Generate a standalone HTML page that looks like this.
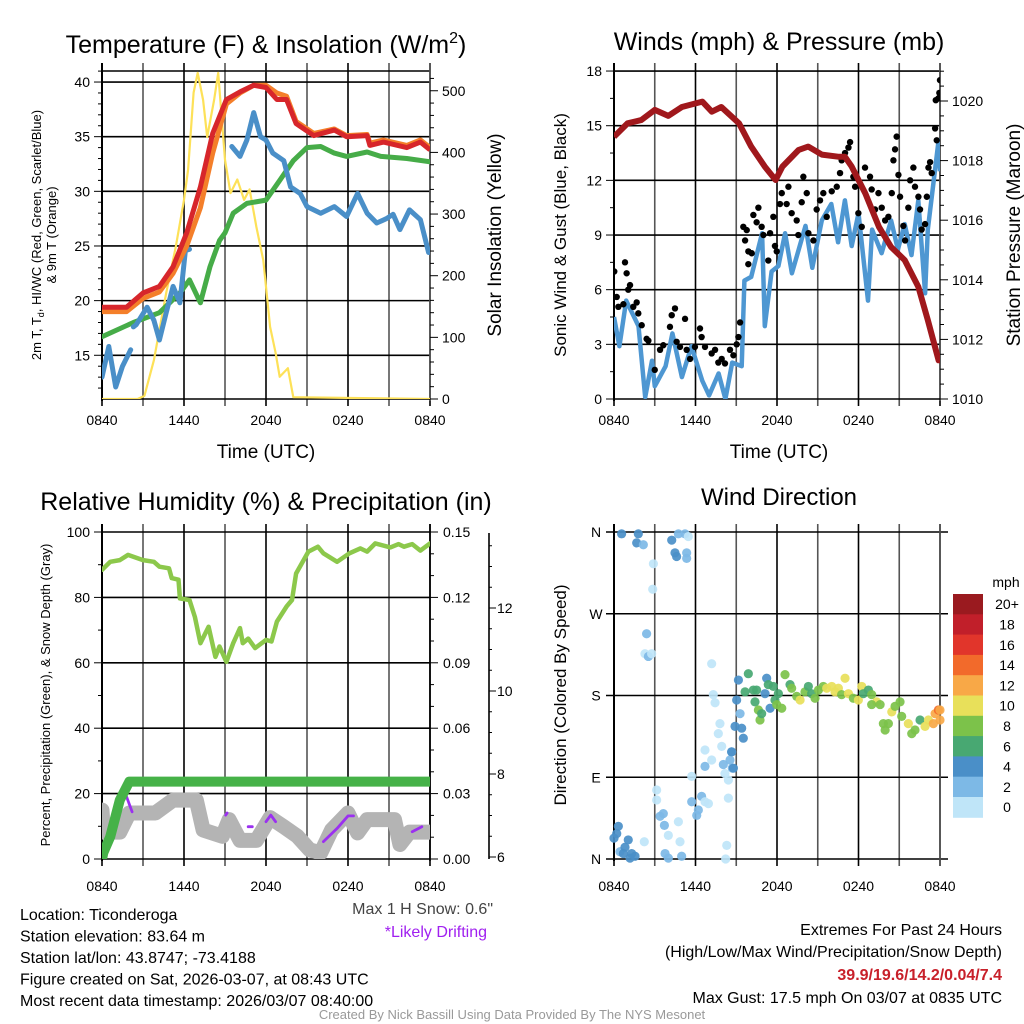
<!DOCTYPE html>
<html><head><meta charset="utf-8"><style>
html,body{margin:0;padding:0;background:#fff;}
svg{display:block;font-family:"Liberation Sans",Arial,sans-serif;}
</style></head><body>
<svg id="root" width="1024" height="1024" viewBox="0 0 1024 1024" xmlns="http://www.w3.org/2000/svg">
<rect width="1024" height="1024" fill="#fff"/>
<g id="g"></g>
</svg>
<script>
// ---------- DATA ----------
const xTickLabels = ["0840","1440","2040","0240","0840"];
// Panel 1: temperature (hours since 0840 UTC)
const redH = [0,1.8,3.0,4.2,5.2,6.2,7.2,8.1,9.1,10.1,11.1,12.0,12.8,13.5,14.2,15.5,17.0,17.9,19.4,19.6,20.6,22.3,23.3,24];
const redV = [19.4,19.4,20.7,21.3,23.1,26.2,30.4,35.3,38.4,39.1,39.7,39.5,38.4,38.4,36.2,35.1,35.6,35.0,35.1,34.2,34.5,34.0,34.5,33.8];
const orangeV = [19.0,19.0,20.2,20.8,22.5,25.0,28.5,33.5,38.0,39.0,39.7,39.7,39.0,38.7,36.4,35.3,35.7,35.1,35.2,34.4,34.7,34.2,34.7,34.0];
const greenH = [0,2.3,4.2,5.7,6.4,7.2,7.9,8.6,9.0,9.6,10.6,12.0,13.0,14.0,15.0,16.0,17.0,17.9,19.4,20.4,22.3,24];
const greenV = [16.7,18.0,18.9,20.7,21.9,19.8,23.1,25.5,26.2,28.0,28.9,29.2,31.0,32.8,34.0,34.1,33.5,33.2,33.6,33.2,33.0,32.7];
const blueH = [0,0.5,1.0,1.5,2.1,null,2.3,2.5,3.3,3.8,4.2,4.7,5.2,5.7,6.1,6.4,null,9.5,10.1,10.6,11.1,11.6,12.0,12.5,13.3,13.8,14.5,15.0,16.0,17.0,17.9,18.7,19.4,20.1,20.8,21.3,21.8,22.5,23.3,23.9];
const blueV = [13.0,15.8,12.1,14.0,15.5,null,17.6,17.8,19.4,18.2,16.4,18.9,21.3,19.8,24.6,24.7,null,34.1,33.2,34.7,37.2,35.0,34.7,33.5,32.8,30.4,29.8,28.6,28.0,28.6,27.7,29.8,28.0,27.1,27.5,27.9,26.5,28.3,27.4,24.4];
const solarH = [0,2.6,3.1,3.8,4.7,5.4,6.0,6.3,6.7,7.0,7.4,7.7,8.2,8.5,9.0,9.4,9.9,10.4,10.8,11.3,11.8,12.3,12.7,13.0,13.6,14.0,24];
const solarV = [0,0,5,63,172,247,323,372,497,529,485,425,485,529,388,334,356,323,340,279,225,117,75,36,50,3,0];
// Panel 2: winds & pressure
const presH = [0,1.0,2.0,3.0,4.0,5.0,6.5,7.2,7.9,9.2,10.1,11.1,11.9,12.4,13.6,14.3,15.3,16.5,17.0,17.5,18.5,19.5,20.4,21.4,22.4,23.1,23.9,24];
const presV = [1018.8,1019.25,1019.36,1019.7,1019.5,1019.8,1019.98,1019.64,1019.8,1019.25,1018.47,1017.8,1017.35,1017.8,1018.36,1018.47,1018.2,1018.13,1018.13,1017.8,1016.9,1015.78,1015.1,1014.66,1013.77,1012.65,1011.3,1011.3];
const windH = [0,0.4,0.9,1.8,2.3,2.8,3.0,3.8,4.3,5.0,5.7,6.5,7.0,7.7,8.2,8.7,9.4,9.6,10.1,10.9,11.1,11.6,12.1,12.6,13.1,14.1,14.6,15.3,16.0,16.5,17.0,17.5,18.0,18.7,19.0,19.7,20.4,20.9,21.4,21.9,22.4,22.9,23.1,23.9,24];
const windV = [4.5,2.9,5.4,4.0,0.1,2.1,0.7,1.8,3.6,1.2,2.9,1.0,0.2,1.4,0,2.0,1.8,6.5,6.7,9.1,4.0,7.0,7.3,9.1,6.9,9.5,7.2,9.8,10.7,8.6,10.9,8.4,10.2,5.4,9.3,8.0,9.8,8.2,9.6,7.9,10.9,5.8,9.3,14.2,12.5];
const gustH = [0.02,0.2,0.32,0.81,0.93,1.18,1.05,0.69,1.42,1.67,1.79,2.04,2.4,2.53,3.0,3.39,3.63,4.12,4.25,4.49,4.61,4.86,5.23,5.35,5.6,5.96,6.33,6.45,6.7,7.19,7.44,7.68,7.93,8.17,8.54,8.79,9.03,9.16,9.28,9.52,9.77,9.65,9.89,10.14,9.89,10.26,10.5,10.63,10.87,11.0,11.36,11.49,11.73,11.85,11.98,12.22,12.35,12.71,12.84,13.08,13.45,13.57,13.82,13.94,14.19,14.31,14.68,14.92,15.17,15.41,15.66,16.03,16.4,16.64,16.76,17.01,17.26,17.38,17.62,17.75,17.99,18.24,18.48,18.85,18.97,19.22,19.47,19.71,19.96,20.2,20.45,20.57,20.69,20.81,20.94,21.06,21.3,21.43,21.67,21.8,22.04,22.16,22.41,22.53,22.65,22.9,23.03,23.15,23.27,23.39,23.64,23.76,23.69,23.88,24.0,23.95];
const gustV = [7.0,5.6,5.06,7.5,6.9,6.25,6.0,5.2,5.06,5.3,4.7,4.05,3.3,3.2,1.6,2.7,2.95,3.96,4.6,4.97,3.14,2.86,4.4,2.7,2.2,2.86,3.87,3.4,2.86,2.5,2.7,2.0,2.2,1.95,2.7,2.4,3.0,3.4,4.2,9.45,9.27,8.7,8.1,8.0,7.4,10.1,9.7,10.5,9.45,9.0,7.6,9.1,10.0,8.4,8.1,10.7,11.3,10.7,11.65,10.2,9.8,9.0,10.8,12.2,11.3,9.1,8.7,10.4,10.9,11.3,10.0,11.4,11.65,12.4,13.1,13.5,13.8,14.1,12.2,11.65,10.2,9.45,12.7,12.2,11.5,10.4,11.3,10.5,9.8,10.0,11.3,13.1,13.7,14.4,12.3,11.1,9.5,8.7,10.5,12.0,12.7,11.65,11.1,10.4,9.3,9.6,11.1,12.7,13.0,12.4,14.85,14.2,16.4,16.5,17.5,16.8];
// Panel 3: humidity, precip, snow
const rhH = [0,0.6,1.3,1.9,3.0,3.8,4.2,4.9,5.1,5.6,5.7,6.4,6.8,7.2,7.8,8.3,8.6,9.1,9.6,10.1,10.3,10.7,11.2,12.0,12.4,12.8,13.5,13.9,14.2,15.1,15.8,16.2,17.2,18.1,18.9,19.4,20.0,21.1,21.7,22.1,22.7,23.3,24];
const rhV = [88.4,90.9,91.4,93,91.4,90.9,89.4,88.9,85.9,85.4,79.7,79.2,74,66,71,61.8,65,60.3,66,70.6,66,67.4,64.5,67,66.5,72.6,77.2,79.2,87.3,94,95.5,93.5,90.9,93.5,95,94,96.5,95.3,96.3,95.5,96.3,94.3,96.5];
const precipH = [0,0.1,0.6,1.3,2.0,24];
const precipV = [0,0.003,0.0102,0.027,0.0355,0.0355];
const snowH = [0,0.1,1.3,2.0,3.9,5.2,6.9,7.4,8.8,9.3,10.1,11.3,12.3,13.3,14.3,15.2,16.0,16.8,18.0,18.7,19.4,20.4,21.4,21.8,22.5,24];
const snowV = [7.13,6.6,6.6,7.06,7.06,7.37,7.37,6.65,6.5,6.9,6.4,6.4,6.95,6.73,6.5,6.17,6.1,6.65,7.06,6.58,6.9,6.9,6.9,6.3,6.6,6.6];
const driftH = [1.8,2.2,null,9.05,9.15,null,10.7,11.0,null,12.0,12.35,12.7,null,16.2,17.2,18.0,18.4,null,22.7,23.4];
const driftV = [7.45,7.09,null,7.01,7.06,null,6.73,6.73,null,6.85,7.01,6.85,null,6.37,6.69,6.99,6.99,null,6.61,6.73];
// Panel 4: wind direction (hour, degrees, speed mph)
const dirH = [0.56,1.79,1.67,2.16,4.25,4.49,4.61,5.23,5.35,5.47,5.35,4.74,2.9,2.85,2.4,2.28,2.53,2.77,
 7.19,7.31,7.44,7.8,7.68,6.7,7.19,7.93,8.17,8.42,6.7,8.05,8.66,8.54,8.71,5.72,3.14,3.14,3.39,3.63,3.71,4.0,3.76,4.0,4.98,4.86,4.74,5.72,6.21,6.45,6.7,6.09,6.95,8.3,8.22,8.42,2.23,
 0,0.32,0.2,0.44,0.81,1.05,1.3,1.55,0.69,1.18,
 9.16,9.03,9.28,8.91,9.4,9.52,8.66,8.79,
 9.89,9.65,10.26,10.5,10.38,10.63,10.75,10.87,11.24,11.12,11.49,11.36,11.73,11.85,12.1,12.35,11.98,12.59,12.96,13.08,13.45,13.7,14.06,14.31,14.55,14.8,15.05,15.41,15.66,16.03,16.27,16.52,16.76,17.01,17.26,17.62,17.99,18.24,18.36,18.73,18.97,19.34,18.97,19.59,19.83,19.96,20.2,20.45,20.69,21.06,21.18,21.67,21.92,22.16,22.53,22.9,23.15,23.51,23.64,23.88,24.0,24.0];
const dirV = [358,358,348,346,351,337,333,358,337,355,331,358,325,297,248,226,223,226,
 215,181,172,149,138,120,109,124,94,87,102,104,118,109,100,91,76,65,47,50,37,26,6,1,3,19,41,63,54,69,63,48,61,15,0,67,19,
 23,36,28,8,13,21,6,3,6,1,
 197,175,160,146,144,133,118,100,
 204,184,186,186,173,164,153,160,199,182,166,192,190,175,182,166,170,203,192,188,179,175,184,190,182,177,186,190,188,190,184,188,181,199,182,177,175,190,182,186,181,173,170,170,149,142,149,162,168,173,157,149,138,142,153,146,153,149,160,164,153,164];
const dirS = [4,4,4,2,4,4,4,2,2,0,2,2,0,0,2,0,2,0,
 0,0,0,0,0,0,0,0,0,0,2,2,2,2,2,0,0,0,2,2,2,0,2,2,2,0,0,2,2,2,0,2,0,0,0,0,0,
 4,4,4,2,4,4,4,4,4,4,
 4,4,2,4,4,4,4,4,
 6,6,6,6,6,8,8,6,4,4,4,6,6,6,6,8,8,8,6,8,8,10,8,6,6,8,8,8,10,10,10,10,8,10,10,8,10,10,6,6,8,10,8,8,8,8,8,10,8,8,8,10,8,8,6,10,10,12,12,14,12];
const cbLabels = ["20+","18","16","14","12","10","8","6","4","2","0"];
const cbColors = ["#9a1a1f","#c11f2a","#e1352b","#f26a2b","#f8a847","#e8e05a","#7cc24a","#48a872","#4a8fc8","#7db9e6","#bfe5f8"];

// ---------- HELPERS ----------
const NS="http://www.w3.org/2000/svg";
const G=document.getElementById('g');
function mk(tag,attrs,parent){const e=document.createElementNS(NS,tag);for(const k in attrs)e.setAttribute(k,attrs[k]);(parent||G).appendChild(e);return e;}
function txt(x,y,s,size,anchor,parent,fill,weight){const t=mk('text',{x:x,y:y,'font-size':size,'text-anchor':anchor||'middle',fill:fill||'#000'},parent);if(weight)t.setAttribute('font-weight',weight);t.textContent=s;return t;}
function pathFrom(hs,vs,fx,fy){let d='',pen=false;for(let i=0;i<hs.length;i++){if(hs[i]===null||vs[i]===null){pen=false;continue;}d+=(pen?'L':'M')+fx(hs[i]).toFixed(1)+','+fy(vs[i]).toFixed(1);pen=true;}return d;}
function speedColor(s){if(s===undefined||s===null)s=12;let idx=10-Math.min(10,Math.floor(s/2));return cbColors[idx];}

function frame(P,name){
  const g=mk('g',{});
  
  
  for(let h=0;h<=24;h+=3){const x=P.x(h);
    mk('line',{x1:x,y1:P.t-8,x2:x,y2:P.b+7,stroke:(h%6===0)?'#000':'#555','stroke-width':1.6},g);}
  return g;
}
function xTicks(P,yLab,name){
  const g=mk('g',{});
  
  
  for(let i=0;i<5;i++){const t=txt(P.x(i*6),yLab,xTickLabels[i],14,'middle',g);
    
    }
}
function clip(id,P){const c=mk('clipPath',{id:id});mk('rect',{x:P.l,y:P.t,width:P.r-P.l,height:P.b-P.t},c);}

// ---------- PANEL 1 ----------
(function(){
  const P={l:102,r:430,t:71,b:399};
  P.x=h=>P.l+h*(P.r-P.l)/24; const yT=v=>399-(v-11)*10.93; const yS=w=>399-w*0.6165;
  clip('c1',P);
  const grid=frame(P,'temperature');
  for(let v=15;v<=40;v+=5)mk('line',{x1:P.l,y1:yT(v),x2:P.r,y2:yT(v),stroke:'#000','stroke-width':1.6},grid);
  mk('line',{x1:P.l,y1:P.t,x2:P.r,y2:P.t,stroke:'#000','stroke-width':1.6},grid);
  const ax=mk('g',{});
  
  
  mk('line',{x1:P.l,y1:P.t-8,x2:P.l,y2:P.b+2,stroke:'#000','stroke-width':2},ax);
  mk('line',{x1:P.r,y1:P.t-8,x2:P.r,y2:P.b+2,stroke:'#555','stroke-width':1.6},ax);
  mk('line',{x1:P.l,y1:P.b,x2:P.r,y2:P.b,stroke:'#000','stroke-width':1.6},ax);
  for(let v=12;v<=41;v++){const y=yT(v);mk('line',{x1:P.l-(v%5?4:8),y1:y,x2:P.l,y2:y,stroke:'#000','stroke-width':1},ax);}
  for(let v=15;v<=40;v+=5)txt(P.l-12,yT(v)+5,String(v),14,'end',ax);
  for(let w=0;w<=520;w+=20){const y=yS(w);mk('line',{x1:P.r,y1:y,x2:P.r+(w%100?4:8),y2:y,stroke:'#000','stroke-width':1},ax);}
  for(let w=0;w<=500;w+=100)txt(P.r+12,yS(w)+5,String(w),14,'start',ax);
  const lines=mk('g',{'clip-path':'url(#c1)'});
  
  
  const ys=mk('path',{d:pathFrom(solarH,solarV,P.x,yS),fill:'none',stroke:'#fde158','stroke-width':2.2,'stroke-linejoin':'round'},lines);
  
  const gl=mk('path',{d:pathFrom(greenH,greenV,P.x,yT),fill:'none',stroke:'#46ac48','stroke-width':5,'stroke-linejoin':'round','stroke-linecap':'round'},lines);
  
  const bl=mk('path',{d:pathFrom(blueH,blueV,P.x,yT),fill:'none',stroke:'#4a8fc8','stroke-width':5,'stroke-linejoin':'round','stroke-linecap':'round'},lines);
  
  const ol=mk('path',{d:pathFrom(redH,orangeV,P.x,yT),fill:'none',stroke:'#f47f2a','stroke-width':5,'stroke-linejoin':'round'},lines);
  
  const rl=mk('path',{d:pathFrom(redH,redV,P.x,yT),fill:'none',stroke:'#d7262b','stroke-width':5,'stroke-linejoin':'round'},lines);
  
  xTicks(P,425,'temperature');
  const tt=mk('text',{x:266,y:53,'font-size':25,'text-anchor':'middle'});
  
  tt.innerHTML='Temperature (F) &amp; Insolation (W/m<tspan dy="-10" font-size="16">2</tspan><tspan dy="10">)</tspan>';
  const xt=txt(266,458,'Time (UTC)',19);
  const yl=mk('text',{transform:'translate(41,235) rotate(-90)','font-size':13,'text-anchor':'middle'});
  
  yl.innerHTML='2m T, T<tspan dy="3" font-size="9">d</tspan><tspan dy="-3">, HI/WC (Red, Green, Scarlet/Blue)</tspan>';
  const yl2=txt(0,0,'& 9m T (Orange)',13);yl2.setAttribute('transform','translate(56,235) rotate(-90)');
  
  const yr=txt(0,0,'Solar Insolation (Yellow)',19);yr.setAttribute('transform','translate(501,235) rotate(-90)');
  
})();

// ---------- PANEL 2 ----------
(function(){
  const P={l:614,r:940,t:71,b:399};
  P.x=h=>P.l+h*(P.r-P.l)/24; const yW=v=>399-v*18.22; const yP=p=>399-(p-1010)*29.8;
  clip('c2',P);
  const grid=frame(P,'winds');
  for(let v=3;v<=18;v+=3)mk('line',{x1:P.l,y1:yW(v),x2:P.r,y2:yW(v),stroke:'#000','stroke-width':1.6},grid);
  const ax=mk('g',{});
  
  
  mk('line',{x1:P.l,y1:P.t-8,x2:P.l,y2:P.b+2,stroke:'#000','stroke-width':2},ax);
  mk('line',{x1:P.r,y1:P.t-8,x2:P.r,y2:P.b+2,stroke:'#555','stroke-width':1.6},ax);
  mk('line',{x1:P.l,y1:P.b,x2:P.r,y2:P.b,stroke:'#000','stroke-width':1.6},ax);
  for(let v=0;v<=18;v+=1.5){const y=yW(v);mk('line',{x1:P.l-(v%3?4:8),y1:y,x2:P.l,y2:y,stroke:'#000','stroke-width':1},ax);}
  for(let v=0;v<=18;v+=3)txt(P.l-12,yW(v)+5,String(v),14,'end',ax);
  for(let p=1010;p<=1021;p+=0.5){const y=yP(p);mk('line',{x1:P.r,y1:y,x2:P.r+(p%2?4:8),y2:y,stroke:'#000','stroke-width':1},ax);}
  for(let p=1010;p<=1020;p+=2)txt(P.r+12,yP(p)+5,String(p),14,'start',ax);
  const lines=mk('g',{'clip-path':'url(#c2)'});
  
  
  const bl=mk('path',{d:pathFrom(windH,windV,P.x,yW),fill:'none',stroke:'#4e97d2','stroke-width':4.5,'stroke-linejoin':'round'},lines);
  
  for(let i=0;i<gustH.length;i++){const c=mk('circle',{cx:P.x(gustH[i]),cy:yW(gustV[i]),r:3.2,fill:'#000'},lines);
    
    }
  const pl=mk('path',{d:pathFrom(presH,presV,P.x,yP),fill:'none',stroke:'#a0181c','stroke-width':6,'stroke-linejoin':'round'},lines);
  
  xTicks(P,425,'winds');
  const tt=txt(779,50,'Winds (mph) & Pressure (mb)',25);
  const xt=txt(779,458,'Time (UTC)',19);
  const yl=txt(0,0,'Sonic Wind & Gust (Blue, Black)',17);yl.setAttribute('transform','translate(566,235) rotate(-90)');
  
  const yr=txt(0,0,'Station Pressure (Maroon)',19);yr.setAttribute('transform','translate(1020,235) rotate(-90)');
  
})();

// ---------- PANEL 3 ----------
(function(){
  const P={l:102,r:430,t:532,b:859};
  P.x=h=>P.l+h*(P.r-P.l)/24; const yR=v=>859-v*3.27; const yIn=v=>859-v*2180; const ySn=v=>857-(v-6)*41.5;
  clip('c3',P);
  const grid=frame(P,'humidity');
  for(let v=20;v<=100;v+=20)mk('line',{x1:P.l,y1:yR(v),x2:P.r,y2:yR(v),stroke:'#000','stroke-width':1.6},grid);
  const ax=mk('g',{});
  
  
  mk('line',{x1:P.l,y1:P.t-8,x2:P.l,y2:P.b+2,stroke:'#000','stroke-width':2},ax);
  mk('line',{x1:P.r,y1:P.t-8,x2:P.r,y2:P.b+2,stroke:'#000','stroke-width':1.6},ax);
  mk('line',{x1:P.l,y1:P.b,x2:P.r,y2:P.b,stroke:'#000','stroke-width':1.6},ax);
  for(let v=0;v<=100;v+=10){const y=yR(v);mk('line',{x1:P.l-(v%20?4:8),y1:y,x2:P.l,y2:y,stroke:'#000','stroke-width':1},ax);}
  for(let v=0;v<=100;v+=20)txt(P.l-12,yR(v)+5,String(v),14,'end',ax);
  for(let i=0;i<=15;i++){const y=yIn(i*0.01);mk('line',{x1:P.r,y1:y,x2:P.r+(i%3?4:8),y2:y,stroke:'#000','stroke-width':1},ax);}
  for(let i=0;i<=5;i++)txt(P.r+13,yIn(i*0.03)+5,(i*0.03).toFixed(2),14,'start',ax);
  mk('line',{x1:489,y1:533,x2:489,y2:859,stroke:'#000','stroke-width':1.6},ax);
  for(let v=6;v<=13.8;v+=0.5){const y=ySn(v);mk('line',{x1:489,y1:y,x2:489+(v%2?3:7),y2:y,stroke:'#000','stroke-width':1},ax);}
  for(let v=6;v<=12;v+=2)txt(497,ySn(v)+5,String(v),14,'start',ax);
  const lines=mk('g',{'clip-path':'url(#c3)'});
  
  
  const sn=mk('path',{d:pathFrom(snowH,snowV,P.x,ySn),fill:'none',stroke:'#b4b4b4','stroke-width':15,'stroke-linejoin':'round','stroke-linecap':'round'},lines);
  
  const dr=mk('path',{d:pathFrom(driftH,driftV,P.x,ySn),fill:'none',stroke:'#9b30f0','stroke-width':2.8,'stroke-linejoin':'round','stroke-linecap':'round'},lines);
  
  const pr=mk('path',{d:pathFrom(precipH,precipV,P.x,yIn),fill:'none',stroke:'#46b248','stroke-width':10,'stroke-linejoin':'round','stroke-linecap':'round'},lines);
  
  const rh=mk('path',{d:pathFrom(rhH,rhV,P.x,yR),fill:'none',stroke:'#8cc84b','stroke-width':4.5,'stroke-linejoin':'round','stroke-linecap':'round'},lines);
  
  xTicks(P,891,'humidity');
  const tt=txt(266,510,'Relative Humidity (%) & Precipitation (in)',25);
  const yl=txt(0,0,'Percent, Precipitation (Green), & Snow Depth (Gray)',13);yl.setAttribute('transform','translate(50,695) rotate(-90)');
  
})();

// ---------- PANEL 4 ----------
(function(){
  const P={l:614,r:940,t:532,b:859};
  P.x=h=>P.l+h*(P.r-P.l)/24; const yD=d=>859-d*(327/360);
  clip('c4',{l:P.l-6,r:P.r+6,t:P.t-6,b:P.b+6});
  const grid=frame(P,'wind-direction');
  for(let d=0;d<=360;d+=90)mk('line',{x1:P.l-8,y1:yD(d),x2:P.r+8,y2:yD(d),stroke:'#000','stroke-width':1.6},grid);
  const ax=mk('g',{});
  
  
  mk('line',{x1:P.l,y1:P.t-8,x2:P.l,y2:P.b+2,stroke:'#000','stroke-width':2},ax);
  mk('line',{x1:P.r,y1:P.t-8,x2:P.r,y2:P.b+7,stroke:'#555','stroke-width':1.6},ax);
  const dl=["N","E","S","W","N"];
  for(let i=0;i<5;i++)txt(P.l-18,yD(i*90)+5,dl[i],14,'middle',ax);
  const pts=mk('g',{'clip-path':'url(#c4)'});
  
  
  const n=Math.min(dirH.length,dirV.length);
  for(let i=0;i<n;i++){const c=mk('circle',{cx:P.x(Math.min(24,dirH[i])),cy:yD(dirV[i]),r:4.6,fill:speedColor(dirS[i]),'fill-opacity':0.92},pts);
    
    }
  xTicks(P,891,'wind-direction');
  const tt=txt(779,505,'Wind Direction',24);
  const yl=txt(0,0,'Direction (Colored By Speed)',17);yl.setAttribute('transform','translate(566,695) rotate(-90)');
  
  const cb=mk('g',{});
  
  
  const t0=594,bh=20.3;
  for(let i=0;i<cbLabels.length;i++){
    const r=mk('rect',{x:953,y:t0+i*bh,width:30,height:bh+0.5,fill:cbColors[i]},cb);
    
    
    txt(1007,t0+i*bh+bh/2+5,cbLabels[i],14,'middle',cb);
  }
  txt(1006,587,'mph',14,'middle',cb);
})();

// ---------- FOOTER ----------
(function(){
  const f=mk('g',{});
  
  
  txt(493,914,'Max 1 H Snow: 0.6"',16,'end',f,'#444');
  txt(487,937,'*Likely Drifting',16,'end',f,'#a020f0');
  const left=["Location: Ticonderoga","Station elevation: 83.64 m","Station lat/lon: 43.8747; -73.4188","Figure created on Sat, 2026-03-07, at 08:43 UTC","Most recent data timestamp: 2026/03/07 08:40:00"];
  for(let i=0;i<left.length;i++)txt(20,920+i*21.5,left[i],16,'start',f);
  txt(1002,935,'Extremes For Past 24 Hours',16,'end',f);
  txt(1002,957,'(High/Low/Max Wind/Precipitation/Snow Depth)',16,'end',f);
  txt(1002,980,'39.9/19.6/14.2/0.04/7.4',16,'end',f,'#c8202a','bold');
  txt(1002,1003,'Max Gust: 17.5 mph On 03/07 at 0835 UTC',16,'end',f);
  txt(512,1019,'Created By Nick Bassill Using Data Provided By The NYS Mesonet',13,'middle',f,'#999');
})();
</script>
</body></html>
